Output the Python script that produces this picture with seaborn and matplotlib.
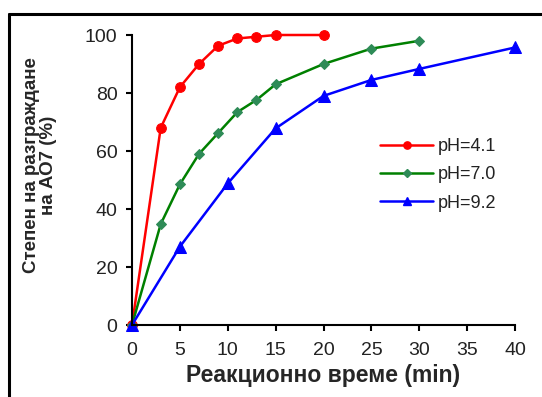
import matplotlib
matplotlib.use("Agg")
import matplotlib.pyplot as plt
import seaborn as sns
import pandas as pd
from matplotlib.lines import Line2D

sns.set_style("ticks")
plt.rcParams['font.family'] = ['Liberation Sans', 'DejaVu Sans']

t_41 = [0, 3, 5, 7, 9, 11, 13, 15, 20]
y_41 = [0, 68, 82, 90, 96.3, 98.8, 99.4, 100, 100]
t_70 = [0, 3, 5, 7, 9, 11, 13, 15, 20, 25, 30]
y_70 = [0, 34.8, 48.5, 59, 66.2, 73.4, 77.6, 83, 90, 95.3, 98]
t_92 = [0, 5, 10, 15, 20, 25, 30, 40]
y_92 = [0, 27, 48.8, 67.8, 79, 84.5, 88.3, 95.7]
labels = ["pH=4.1", "pH=7.0", "pH=9.2"]
x_ticks = [0, 5, 10, 15, 20, 25, 30, 35, 40]
y_ticks = [0, 20, 40, 60, 80, 100]

series = [
    (t_41, y_41, labels[0], "#ff0000", "#ff0000", "o", 7),
    (t_70, y_70, labels[1], "#008000", "#2e8b57", "D", 5.5),
    (t_92, y_92, labels[2], "#0000ff", "#0000ff", "^", 8),
]

fig = plt.figure(figsize=(5.42, 3.97), dpi=100)
ax = fig.add_axes([132/542, 1-325/397, (515-132)/542, (325-35)/397])

handles = []
for t, y, lab, lc, mc, mk, ms in series:
    df = pd.DataFrame({"t": t, "y": y})
    sns.lineplot(data=df, x="t", y="y", ax=ax, color=lc, linewidth=1.8,
                 marker=mk, markersize=ms, markerfacecolor=mc,
                 markeredgecolor=mc, clip_on=False, label=None, legend=False)
    handles.append(Line2D([], [], color=lc, linewidth=1.8, marker=mk,
                          markersize=ms*0.75, markerfacecolor=mc,
                          markeredgecolor=mc, label=lab))

ax.set_xlim(0, 40)
ax.set_ylim(0, 100)
ax.set_xticks(x_ticks)
ax.set_yticks(y_ticks)
for s in ["top", "right"]:
    ax.spines[s].set_visible(False)
for s in ["left", "bottom"]:
    ax.spines[s].set_linewidth(1.5)
    ax.spines[s].set_color("black")
ax.tick_params(axis="both", direction="out", length=4.5, width=1.5,
               labelsize=14, colors="black", labelcolor="#222222")
ax.tick_params(axis="x", pad=8)
ax.tick_params(axis="y", pad=6)

ax.set_xlabel("Реакционно време (min)", fontsize=16.5, fontweight="bold",
              labelpad=3)
ax.set_ylabel("Степен на разграждане\nна АО7 (%)", fontsize=13.5,
              fontweight="bold", linespacing=1.0)
ax.yaxis.set_label_coords(-0.196, 0.552)

leg = ax.legend(handles=handles, loc="upper left",
                bbox_to_anchor=(0.605, 0.70), frameon=False, fontsize=13,
                handlelength=2.95, handletextpad=0.25, labelspacing=0.62)
for txt in leg.get_texts():
    txt.set_color("#222222")

# partial figure frame
fig.add_artist(Line2D([9/542, 9/542], [0, 1-14/397], transform=fig.transFigure,
                      color="black", linewidth=2.2))
fig.add_artist(Line2D([9/542, 1], [1-14/397, 1-14/397], transform=fig.transFigure,
                      color="black", linewidth=2.2))

fig.savefig("out.png", dpi=100)
